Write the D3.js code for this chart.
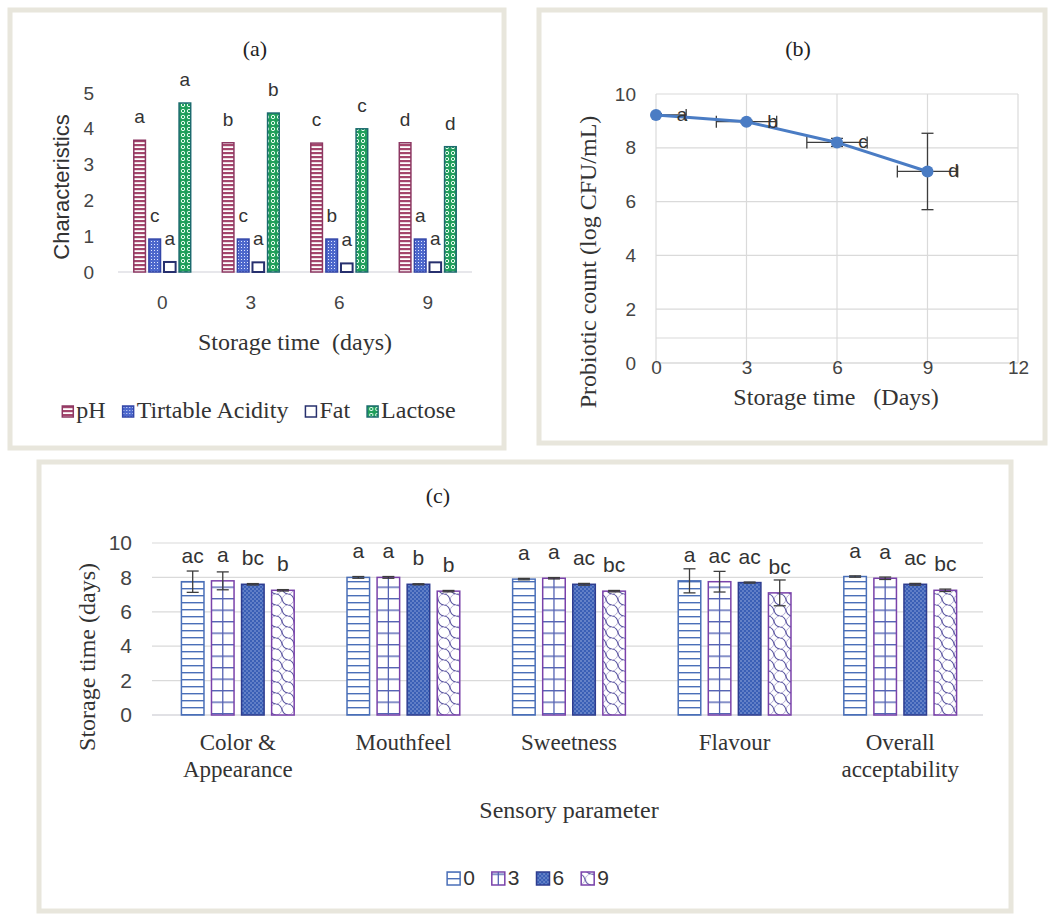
<!DOCTYPE html>
<html><head><meta charset="utf-8">
<script src="https://cdn.jsdelivr.net/npm/d3@7"></script>
<style>body{margin:0;background:#fff}</style>
</head><body>
<script>
// ---------- Panel (a) data ----------
const aDays = ["0","3","6","9"];
const aSeries = ["pH","Tirtable Acidity","Fat","Lactose"];
const aPH = [3.68,3.61,3.60,3.61];
const aTA = [0.92,0.92,0.92,0.92];
const aFat = [0.28,0.27,0.24,0.27];
const aLactose = [4.72,4.44,4.00,3.50];
const aLetPH = ["a","b","c","d"];
const aLetTA = ["c","c","b","a"];
const aLetFat = ["a","a","a","a"];
const aLetLac = ["a","b","c","d"];
const aTicks = [0,1,2,3,4,5];

// ---------- Panel (b) data ----------
const bDays = [0,3,6,9];
const bCount = [9.22,8.97,8.2,7.12];
const bErrY = [0.05,0.05,0.15,1.42];
const bErrX = [1,1,1,1];
const bLetters = ["a","b","c","d"];
const bYTicks = [0,2,4,6,8,10];
const bXTicks = [0,3,6,9,12];
const bExtraGrid = [0.93];

// ---------- Panel (c) data ----------
const cParams = ["Color &\nAppearance","Mouthfeel","Sweetness","Flavour","Overall\nacceptability"];
const cDays = ["0","3","6","9"];
const cDay0 = [7.75,8.0,7.9,7.8,8.05];
const cDay3 = [7.8,8.0,7.95,7.75,7.95];
const cDay6 = [7.6,7.6,7.6,7.7,7.6];
const cDay9 = [7.25,7.2,7.2,7.1,7.25];
const cErr0 = [0.62,0.05,0.04,0.7,0.04];
const cErr3 = [0.52,0.05,0.04,0.6,0.07];
const cErr6 = [0.04,0.03,0.05,0.03,0.05];
const cErr9 = [0.04,0.04,0.04,0.75,0.07];
const cLet0 = ["ac","a","a","a","a"];
const cLet3 = ["a","a","a","ac","a"];
const cLet6 = ["bc","b","ac","ac","ac"];
const cLet9 = ["b","b","bc","bc","bc"];
const cTicks = [0,2,4,6,8,10];

// ---------- drawing ----------
const SANS = "'Liberation Sans', Arial, sans-serif";
const SERIF = "'Liberation Serif', 'Times New Roman', serif";
const svg = d3.select("body").append("svg").attr("width",1050).attr("height",914);
svg.append("rect").attr("width",1050).attr("height",914).attr("fill","#fff");
const defs = svg.append("defs");

// patterns
function pat(id,w,h){return defs.append("pattern").attr("id",id).attr("patternUnits","userSpaceOnUse").attr("width",w).attr("height",h);}
let p = pat("pH",4,4);
p.append("rect").attr("width",4).attr("height",4).attr("fill","#fff");
p.append("rect").attr("width",4).attr("height",2.2).attr("fill","#a4466c");
p = pat("ta",3,3);
p.append("rect").attr("width",3).attr("height",3).attr("fill","#4d68cc");
p.append("rect").attr("x",1).attr("y",1).attr("width",1).attr("height",1).attr("fill","#dfe6ff");
p = pat("lac",6,6);
p.append("rect").attr("width",6).attr("height",6).attr("fill","#1f9e5a");
p.append("circle").attr("cx",3).attr("cy",3).attr("r",1.7).attr("fill","none").attr("stroke","#e8fff0").attr("stroke-width",1);
p = pat("c0",8,7);
p.append("rect").attr("width",8).attr("height",7).attr("fill","#fff");
p.append("rect").attr("width",8).attr("height",1.4).attr("fill","#4a6fb8");
p = pat("c3",8,11.5);
p.append("rect").attr("width",8).attr("height",11.5).attr("fill","#fff");
p.append("rect").attr("width",8).attr("height",1.4).attr("fill","#5563b3");
p = pat("c6",4,4);
p.append("rect").attr("width",4).attr("height",4).attr("fill","#3a5fb5");
p.append("rect").attr("x",0.5).attr("y",0.5).attr("width",1).attr("height",1).attr("fill","#e6ecff");
p.append("rect").attr("x",2.5).attr("y",2.5).attr("width",1).attr("height",1).attr("fill","#c9d5ff");
p = pat("c9",12,11);
p.append("rect").attr("width",12).attr("height",11).attr("fill","#fff");
p.append("path").attr("d","M0,0 C9,1 3,10 12,11").attr("fill","none").attr("stroke","#5a56a0").attr("stroke-width",1.2);
p.append("path").attr("d","M12,0 C3,1 9,10 0,11").attr("fill","none").attr("stroke","#6a5aa8").attr("stroke-width",0.8).attr("opacity",0.6);

// frames
[[10,10,494,438],[539,10,506,433],[39,462,972,449]].forEach(r=>{
  svg.append("rect").attr("x",r[0]).attr("y",r[1]).attr("width",r[2]).attr("height",r[3])
    .attr("fill","#fff").attr("stroke","#e8e6dc").attr("stroke-width",5);
});

// ================= Panel (a) =================
const gA = svg.append("g");
const xA0 = d3.scaleBand().domain(aDays).range([118,472]).paddingInner(0.34).paddingOuter(0.17);
const xA1 = d3.scaleBand().domain(aSeries).range([0,xA0.bandwidth()]).paddingInner(0.13);
const yA = d3.scaleLinear().domain([0,5]).range([272,93]);
const aVals = [aPH,aTA,aFat,aLactose];
const aLets = [aLetPH,aLetTA,aLetFat,aLetLac];
const aFill = ["url(#pH)","url(#ta)","#fff","url(#lac)"];
const aStroke = ["#8d3762","#3346a8","#27306e","#1c6b6e"];
const aSW = [1.5,1.5,2,1.5];

gA.append("line").attr("x1",118).attr("x2",472).attr("y1",yA(0)).attr("y2",yA(0)).attr("stroke","#cfcfd8").attr("stroke-width",1.2);
aSeries.forEach((s,si)=>{
  gA.selectAll(null).data(aVals[si]).enter().append("rect")
    .attr("x",(d,i)=>xA0(aDays[i])+xA1(s)+0.75)
    .attr("y",d=>yA(d))
    .attr("width",xA1.bandwidth()-1.5)
    .attr("height",d=>yA(0)-yA(d))
    .attr("fill",aFill[si]).attr("stroke",aStroke[si]).attr("stroke-width",aSW[si]);
  gA.selectAll(null).data(aVals[si]).enter().append("text")
    .attr("x",(d,i)=>xA0(aDays[i])+xA1(s)+xA1.bandwidth()/2)
    .attr("y",d=>yA(d)-17)
    .attr("text-anchor","middle").attr("font-family",SANS).attr("font-size",19).attr("fill","#333")
    .text((d,i)=>aLets[si][i]);
});
const axA = gA.append("g").attr("transform","translate(118,0)")
  .call(d3.axisLeft(yA).tickValues(aTicks).tickFormat(d3.format("d")).tickSize(0).tickPadding(24));
axA.select(".domain").remove();
axA.selectAll("text").attr("font-family",SANS).attr("font-size",19).attr("fill","#444");
const axAx = gA.append("g").attr("transform",`translate(0,${yA(0)})`)
  .call(d3.axisBottom(xA0).tickSize(0).tickPadding(24));
axAx.select(".domain").remove();
axAx.selectAll("text").attr("font-family",SANS).attr("font-size",19).attr("fill","#444");
gA.append("text").attr("x",255).attr("y",56).attr("text-anchor","middle").attr("font-family",SERIF).attr("font-size",22).attr("fill","#222").text("(a)");
gA.append("text").attr("transform","translate(69,187) rotate(-90)").attr("text-anchor","middle").attr("font-family",SANS).attr("font-size",22).attr("fill","#333").text("Characteristics");
gA.append("text").attr("x",295).attr("y",350).attr("text-anchor","middle").attr("font-family",SERIF).attr("font-size",24).attr("fill","#333").attr("xml:space","preserve").text("Storage time  (days)");
// legend a
const legA = gA.append("g");
let lx = 0;
aSeries.forEach((s,si)=>{
  legA.append("rect").attr("x",lx).attr("y",-12).attr("width",11).attr("height",11)
    .attr("fill",aFill[si]).attr("stroke",aStroke[si]).attr("stroke-width",1.5);
  const t = legA.append("text").attr("x",lx+14).attr("y",0).attr("font-family",SERIF).attr("font-size",24).attr("fill","#333").text(s);
  lx += 14 + t.node().getComputedTextLength() + 17;
});
lx -= 17;
legA.attr("transform",`translate(${259-lx/2},418)`);

// ================= Panel (b) =================
const gB = svg.append("g");
const xB = d3.scaleLinear().domain([0,12]).range([656,1018]);
const yB = d3.scaleLinear().domain([0,10]).range([363,94]);
gB.selectAll(null).data(bYTicks.concat(bExtraGrid)).enter().append("line")
  .attr("x1",xB(0)).attr("x2",xB(12)).attr("y1",d=>yB(d)).attr("y2",d=>yB(d))
  .attr("stroke",d=>d===0?"#c8c8c8":"#dadada").attr("stroke-width",1.2);
gB.selectAll(null).data(bXTicks).enter().append("line")
  .attr("x1",d=>xB(d)).attr("x2",d=>xB(d)).attr("y1",yB(0)).attr("y2",yB(10))
  .attr("stroke","#dadada").attr("stroke-width",1.2);
const axB = gB.append("g").attr("transform",`translate(${xB(0)},0)`)
  .call(d3.axisLeft(yB).tickValues(bYTicks).tickSize(0).tickPadding(20));
axB.select(".domain").remove();
axB.selectAll("text").attr("font-family",SANS).attr("font-size",19).attr("fill","#444");
const axBx = gB.append("g").attr("transform",`translate(0,${yB(0)})`)
  .call(d3.axisBottom(xB).tickValues(bXTicks).tickSize(0).tickPadding(-3));
axBx.select(".domain").remove();
axBx.selectAll("text").attr("font-family",SANS).attr("font-size",19).attr("fill","#444");
gB.append("clipPath").attr("id","clipB").append("rect").attr("x",xB(0)).attr("y",yB(10)).attr("width",xB(12)-xB(0)).attr("height",yB(0)-yB(10));
const errB = gB.append("g").attr("clip-path","url(#clipB)");
bDays.forEach((d,i)=>{
  const x=xB(d), y=yB(bCount[i]), xl=xB(d-bErrX[i]), xr=xB(d+bErrX[i]), yt=yB(bCount[i]+bErrY[i]), yb=yB(bCount[i]-bErrY[i]);
  const col="#3d3d3d";
  errB.append("line").attr("x1",xl).attr("x2",xr).attr("y1",y).attr("y2",y).attr("stroke",col).attr("stroke-width",1.3);
  errB.append("line").attr("x1",xl).attr("x2",xl).attr("y1",y-6).attr("y2",y+6).attr("stroke",col).attr("stroke-width",1.3);
  errB.append("line").attr("x1",xr).attr("x2",xr).attr("y1",y-6).attr("y2",y+6).attr("stroke",col).attr("stroke-width",1.3);
  errB.append("line").attr("x1",x).attr("x2",x).attr("y1",yt).attr("y2",yb).attr("stroke",col).attr("stroke-width",1.3);
  errB.append("line").attr("x1",x-6).attr("x2",x+6).attr("y1",yt).attr("y2",yt).attr("stroke",col).attr("stroke-width",1.3);
  errB.append("line").attr("x1",x-6).attr("x2",x+6).attr("y1",yb).attr("y2",yb).attr("stroke",col).attr("stroke-width",1.3);
});
const lineB = d3.line().x((d,i)=>xB(bDays[i])).y(d=>yB(d));
gB.append("path").datum(bCount).attr("d",lineB).attr("fill","none").attr("stroke","#4a7cc4").attr("stroke-width",3);
gB.selectAll(null).data(bCount).enter().append("circle")
  .attr("cx",(d,i)=>xB(bDays[i])).attr("cy",d=>yB(d)).attr("r",6).attr("fill","#4a7cc4");
gB.selectAll(null).data(bCount).enter().append("text")
  .attr("x",(d,i)=>xB(bDays[i])+26).attr("y",d=>yB(d)+6)
  .attr("text-anchor","middle").attr("font-family",SANS).attr("font-size",19).attr("fill","#333")
  .text((d,i)=>bLetters[i]);
gB.append("text").attr("x",798).attr("y",56).attr("text-anchor","middle").attr("font-family",SERIF).attr("font-size",22).attr("fill","#222").text("(b)");
gB.append("text").attr("transform","translate(596,262) rotate(-90)").attr("text-anchor","middle").attr("font-family",SERIF).attr("font-size",24).attr("fill","#333").text("Probiotic count (log CFU/mL)");
gB.append("text").attr("x",836).attr("y",405).attr("text-anchor","middle").attr("font-family",SERIF).attr("font-size",24).attr("fill","#333").attr("xml:space","preserve").text("Storage time   (Days)");

// ================= Panel (c) =================
const gC = svg.append("g");
const xC0 = d3.scaleBand().domain(cParams).range([155,983]).paddingInner(0.31).paddingOuter(0.155);
const xC1 = d3.scaleBand().domain(cDays).range([0,xC0.bandwidth()]).paddingInner(0.2);
const yC = d3.scaleLinear().domain([0,10]).range([715,543]);
const cVals = [cDay0,cDay3,cDay6,cDay9];
const cErrs = [cErr0,cErr3,cErr6,cErr9];
const cLets = [cLet0,cLet3,cLet6,cLet9];
const cFill = ["url(#c0)","url(#c3)","url(#c6)","url(#c9)"];
const cStroke = ["#4a6fb8","#7a42aa","#2e3d8f","#7a42aa"];
gC.selectAll(null).data(cTicks).enter().append("line")
  .attr("x1",152).attr("x2",983).attr("y1",d=>yC(d)).attr("y2",d=>yC(d))
  .attr("stroke",d=>d===0?"#c4c4cc":"#dadada").attr("stroke-width",1.2);
const axC = gC.append("g").attr("transform","translate(152,0)")
  .call(d3.axisLeft(yC).tickValues(cTicks).tickSize(0).tickPadding(20));
axC.select(".domain").remove();
axC.selectAll("text").attr("font-family",SANS).attr("font-size",21).attr("fill","#444");
cDays.forEach((s,si)=>{
  const bw = xC1.bandwidth();
  cVals[si].forEach((v,i)=>{
    const x = xC0(cParams[i])+xC1(s);
    gC.append("rect").attr("x",x+0.75).attr("y",yC(v)).attr("width",bw-1.5).attr("height",yC(0)-yC(v))
      .attr("fill",cFill[si]).attr("stroke",cStroke[si]).attr("stroke-width",1.5);
    if(si===1){
      gC.append("line").attr("x1",x+bw/2).attr("x2",x+bw/2).attr("y1",yC(v)).attr("y2",yC(0)).attr("stroke","#5563b3").attr("stroke-width",1.3);
    }
    const e = cErrs[si][i], cx = x+bw/2;
    const col="#3d3d3d";
    gC.append("line").attr("x1",cx).attr("x2",cx).attr("y1",yC(v+e)).attr("y2",yC(v-e)).attr("stroke",col).attr("stroke-width",1.3);
    gC.append("line").attr("x1",cx-6).attr("x2",cx+6).attr("y1",yC(v+e)).attr("y2",yC(v+e)).attr("stroke",col).attr("stroke-width",1.3);
    gC.append("line").attr("x1",cx-6).attr("x2",cx+6).attr("y1",yC(v-e)).attr("y2",yC(v-e)).attr("stroke",col).attr("stroke-width",1.3);
    gC.append("text").attr("x",cx).attr("y",yC(v)-19).attr("text-anchor","middle")
      .attr("font-family",SANS).attr("font-size",21).attr("fill","#333").text(cLets[si][i]);
  });
});
cParams.forEach(c=>{
  const t = gC.append("text").attr("text-anchor","middle").attr("font-family",SERIF).attr("font-size",23).attr("fill","#333");
  c.split("\n").forEach((ln,k)=>{
    t.append("tspan").attr("x",xC0(c)+xC0.bandwidth()/2).attr("y",750+k*27).text(ln);
  });
});
gC.append("text").attr("x",438).attr("y",503).attr("text-anchor","middle").attr("font-family",SERIF).attr("font-size",22).attr("fill","#222").text("(c)");
gC.append("text").attr("transform","translate(95,657) rotate(-90)").attr("text-anchor","middle").attr("font-family",SERIF).attr("font-size",24).attr("fill","#333").text("Storage time (days)");
gC.append("text").attr("x",569).attr("y",818).attr("text-anchor","middle").attr("font-family",SERIF).attr("font-size",24).attr("fill","#333").text("Sensory parameter");
// legend c
const legC = gC.append("g");
let cx2 = 0;
cDays.forEach((s,si)=>{
  legC.append("rect").attr("x",cx2).attr("y",-13).attr("width",13).attr("height",13)
    .attr("fill",cFill[si]).attr("stroke",cStroke[si]).attr("stroke-width",1.5);
  if(si===1) legC.append("line").attr("x1",cx2+6.5).attr("x2",cx2+6.5).attr("y1",-13).attr("y2",0).attr("stroke","#5563b3").attr("stroke-width",1.3);
  const t = legC.append("text").attr("x",cx2+16).attr("y",0).attr("font-family",SANS).attr("font-size",21).attr("fill","#333").text(s);
  cx2 += 16 + t.node().getComputedTextLength() + 17;
});
cx2 -= 17;
legC.attr("transform",`translate(${528-cx2/2},885)`);
</script>
</body></html>
